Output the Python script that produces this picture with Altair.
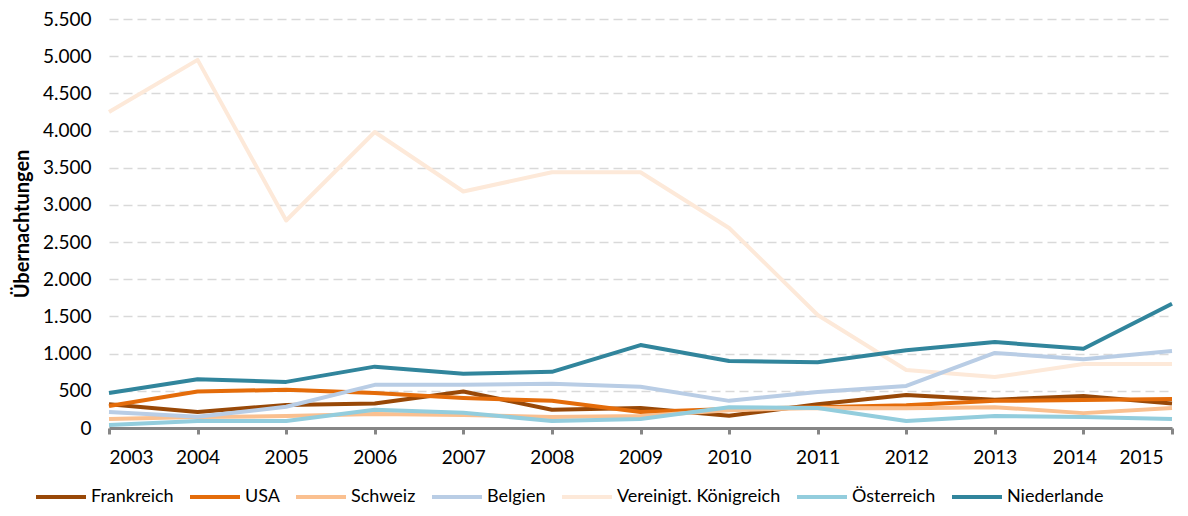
import altair as alt
import pandas as pd

years = list(range(2003, 2016))

countries = ["Frankreich", "USA", "Schweiz", "Belgien", "Vereinigt. Königreich", "Österreich", "Niederlande"]
colors = ["#984807", "#E46C0A", "#FAC090", "#B9CDE5", "#FDE9D9", "#93CDDD", "#31859C"]

frankreich = [320, 215, 310, 330, 490, 245, 270, 165, 320, 445, 380, 430, 330]
usa = [295, 490, 515, 470, 405, 365, 215, 255, 280, 305, 365, 375, 390]
schweiz = [120, 148, 160, 188, 175, 148, 160, 240, 270, 265, 280, 200, 270]
belgien = [215, 150, 285, 580, 580, 595, 555, 365, 485, 565, 1010, 925, 1035]
vk = [4250, 4950, 2790, 3980, 3180, 3440, 3440, 2690, 1520, 780, 685, 860, 860]
oesterreich = [40, 95, 95, 245, 205, 95, 120, 280, 270, 95, 160, 148, 120]
niederlande = [470, 655, 620, 825, 730, 755, 1115, 900, 885, 1045, 1155, 1065, 1670]

series = {
    "Vereinigt. Königreich": vk,
    "Frankreich": frankreich,
    "USA": usa,
    "Schweiz": schweiz,
    "Belgien": belgien,
    "Österreich": oesterreich,
    "Niederlande": niederlande,
}

rows = []
for name, vals in series.items():
    for y, v in zip(years, vals):
        rows.append({"Jahr": y, "Wert": v, "Land": name})
df = pd.DataFrame(rows)

FONT = "Lato"

chart = alt.Chart(df).mark_line(strokeWidth=4, strokeJoin="round").encode(
    x=alt.X(
        "Jahr:Q",
        scale=alt.Scale(domain=[2003, 2015], nice=False, zero=False),
        axis=alt.Axis(
            values=years,
            format="d",
            title=None,
            grid=False,
            domainColor="#868686",
            domainWidth=3,
            tickColor="#868686",
            tickWidth=3,
            tickSize=6,
            labelPadding=14,
            labelFontSize=19,
            labelFont=FONT,
            labelColor="#000000",
            labelOffset={"condition": {"test": "datum.value >= 2014", "value": -9}, "value": 0},
        ),
    ),
    y=alt.Y(
        "Wert:Q",
        scale=alt.Scale(domain=[0, 5500], nice=False),
        axis=alt.Axis(
            values=list(range(0, 5501, 500)),
            labelExpr="replace(format(datum.value, ','), ',', '.')",
            title="Übernachtungen",
            titleFont=FONT,
            titleFontSize=20,
            titleFontWeight="bold",
            titleColor="#000000",
            titlePadding=10,
            domain=False,
            ticks=False,
            labelPadding=18,
            labelFontSize=19,
            labelFont=FONT,
            labelColor="#000000",
            gridColor="#D9D9D9",
            gridWidth=1.5,
            gridDash=[9, 5],
        ),
    ),
    color=alt.Color(
        "Land:N",
        scale=alt.Scale(domain=countries, range=colors),
        legend=alt.Legend(
            title=None,
            orient="none",
            direction="horizontal",
            columns=7,
            legendX=-75,
            legendY=451,
            symbolType="stroke",
            symbolSize=2500,
            symbolStrokeWidth=4,
            labelFont=FONT,
            labelFontSize=18,
            labelColor="#000000",
            labelOffset=3,
            labelLimit=300,
            columnPadding=8,
            padding=0,
        ),
    ),
).properties(
    width=1063,
    height=409,
    autosize=alt.AutoSizeParams(type="none"),
    padding={"left": 101, "top": 11, "right": 8, "bottom": 80},
).configure_view(stroke=None).configure_legend(symbolStrokeColor=None)

chart.save("out.html", embed_options={"renderer": "svg", "actions": False})
